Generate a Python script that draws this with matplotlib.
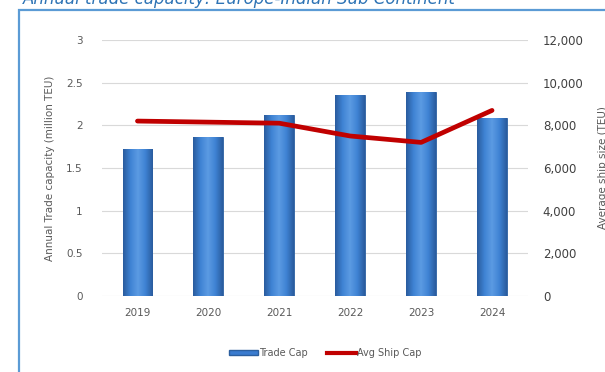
import matplotlib
matplotlib.use("Agg")
import matplotlib.pyplot as plt
import numpy as np
from matplotlib.colors import LinearSegmentedColormap
from matplotlib.patches import Rectangle
from matplotlib.lines import Line2D
from matplotlib.ticker import FuncFormatter

years = ["2019", "2020", "2021", "2022", "2023", "2024"]
trade_cap = [1.72, 1.86, 2.12, 2.36, 2.39, 2.09]
avg_ship_cap = [8200, 8150, 8100, 7500, 7200, 8700]

fig = plt.figure(figsize=(6.05, 3.72), dpi=100)
fig.patch.set_facecolor("white")

# border box
fig.add_artist(Rectangle((18.5/605, -0.1), 1.2, 1 - 9.5/372 + 0.1, transform=fig.transFigure,
                         fill=False, edgecolor="#5B9BD5", linewidth=1.6))
fig.text(23/605, 1 - 4/372, "Annual trade capacity: Europe-Indian Sub Continent",
         fontsize=12, style="italic", color="#2E74B5", ha="left", va="baseline",
         family="DejaVu Sans")

ax = fig.add_axes([102/605, 1 - 296/372, 425.5/605, 256/372])
x = np.arange(len(years))
bw = 0.42
bars = ax.bar(x, trade_cap, width=bw, color="#3A7BCF", edgecolor="#2C5F9F", linewidth=0.6, zorder=2)

cmap = LinearSegmentedColormap.from_list("bg", ["#2A5C9E", "#3F83D4", "#5C9BE3", "#3F83D4", "#2A5C9E"])
grad = np.linspace(0, 1, 64).reshape(1, -1)
for b in bars:
    x0, y0, w, h = b.get_x(), b.get_y(), b.get_width(), b.get_height()
    im = ax.imshow(grad, cmap=cmap, extent=[x0, x0 + w, y0, y0 + h], aspect="auto", zorder=2.5)
    im.set_clip_path(b)

ax.set_xlim(-0.5, len(years) - 0.5)
ax.set_ylim(0, 3)
ax.set_yticks([0, 0.5, 1, 1.5, 2, 2.5, 3])
ax.yaxis.set_major_formatter(FuncFormatter(lambda v, p: f"{v:g}"))
ax.set_xticks(x)
ax.set_xticklabels(years)
ax.grid(axis="y", color="#D9D9D9", linewidth=0.8, zorder=0)
ax.set_axisbelow(True)
for s in ax.spines.values():
    s.set_visible(False)
ax.tick_params(axis="both", length=0, colors="#595959", labelsize=7.5)
ax.tick_params(axis="y", pad=14)
ax.tick_params(axis="x", pad=9)
ax.set_ylabel("Annual Trade capacity (million TEU)", fontsize=7.5, color="#595959")
ax.yaxis.set_label_coords(-0.11, 0.5)

ax2 = ax.twinx()
ax2.plot(x, avg_ship_cap, color="#C00000", linewidth=3.4, solid_capstyle="round", zorder=5)
ax2.set_ylim(0, 12000)
ax2.set_yticks([0, 2000, 4000, 6000, 8000, 10000, 12000])
ax2.yaxis.set_major_formatter(FuncFormatter(lambda v, p: f"{int(v):,}"))
for s in ax2.spines.values():
    s.set_visible(False)
ax2.tick_params(axis="y", length=0, colors="#404040", labelsize=8.5, pad=11)
ax2.set_ylabel("Average ship size (TEU)", fontsize=7.5, color="#595959", rotation=90)
ax2.yaxis.set_label_coords(1.165, 0.5)

handles = [Rectangle((0, 0), 1, 1, facecolor="#3A7BCF", edgecolor="#2C5F9F"),
           Line2D([0], [0], color="#C00000", linewidth=3)]
fig.legend(handles, ["Trade Cap", "Avg Ship Cap"], loc="center", bbox_to_anchor=(325/605, 1 - 353/372),
           ncol=2, frameon=False, fontsize=7, labelcolor="#595959", handlelength=3.0,
           handleheight=0.5, columnspacing=2.0, handletextpad=0.1)

fig.savefig("out.png", dpi=100)
